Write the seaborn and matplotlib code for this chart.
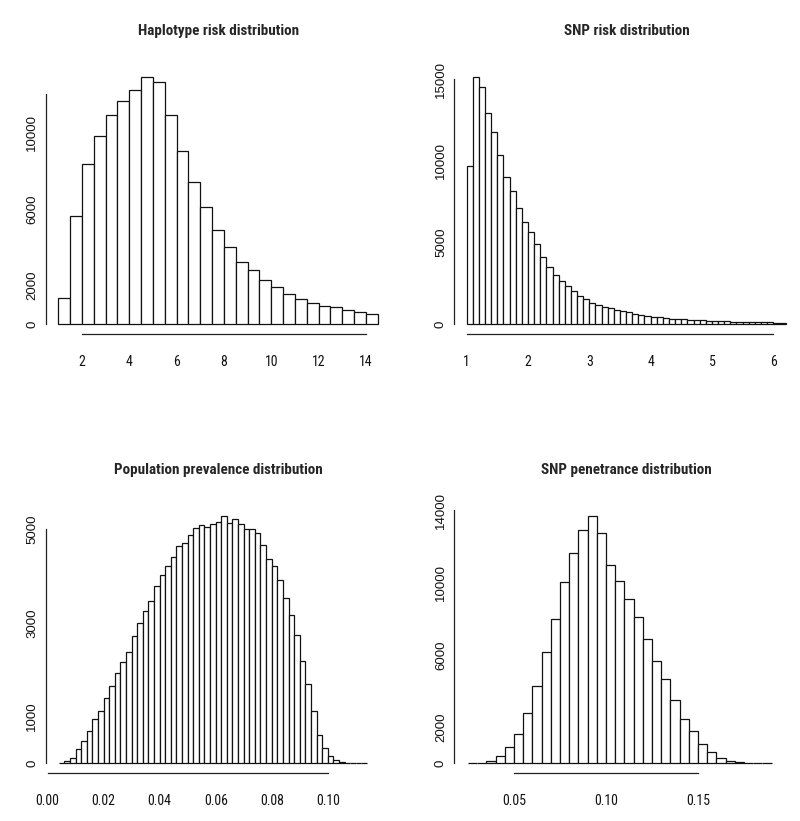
import numpy as np
import pandas as pd
import matplotlib
matplotlib.use('Agg')
import matplotlib.pyplot as plt
import seaborn as sns
from matplotlib import font_manager

# counts (white bars, black outline)
hap_start, hap_width = 1.0, 0.5
hap_counts = [1374, 5635, 8330, 9809, 10904, 11617, 12226, 12870, 12609, 10887,
              9026, 7409, 6104, 4904, 4017, 3252, 2835, 2296, 1913, 1565,
              1304, 1113, 957, 887, 713, 643, 539]

snp_start, snp_width = 1.0, 0.1
snp_counts = [9673, 15143, 14531, 12898, 11735, 10347, 9020, 8163, 7122, 6224,
              5633, 4878, 4102, 3510, 3020, 2653, 2347, 2000, 1700, 1520,
              1306, 1163, 1061, 1000, 857, 796, 735, 612, 551, 510,
              449, 429, 367, 327, 327, 286, 245, 224, 224, 204,
              184, 163, 163, 143, 143, 122, 122, 102, 102, 102,
              82, 82]

prev_start, prev_width = 0.004, 0.002
prev_counts = [10, 50, 120, 313, 484, 691, 947, 1125, 1389, 1652,
               1923, 2172, 2372, 2728, 3006, 3255, 3476, 3796, 4031, 4209,
               4402, 4651, 4715, 4872, 5036, 5093, 5043, 5121, 5164, 5285,
               5142, 5214, 5121, 5014, 5014, 4915, 4665, 4373, 4209, 3910,
               3533, 3177, 2742, 2194, 1695, 1125, 612, 328, 157, 71,
               36, 14, 7, 5, 3]

pen_start, pen_width = 0.025, 0.005
pen_counts = [10, 40, 150, 400, 885, 1624, 2804, 4280, 6144, 7970,
              10018, 11624, 12915, 13708, 12731, 10978, 10111, 9077, 8081, 6900,
              5683, 4668, 3487, 2472, 1771, 1089, 609, 314, 148, 55,
              20, 8, 4]

titles = ['Haplotype risk distribution', 'SNP risk distribution',
          'Population prevalence distribution', 'SNP penetrance distribution']

hap_xticks = [2, 4, 6, 8, 10, 12, 14]
hap_yticks = [0, 2000, 4000, 6000, 8000, 10000, 12000]
hap_ylabels = ['0', '2000', '', '6000', '', '10000', '']

snp_xticks = [1, 2, 3, 4, 5, 6]
snp_yticks = [0, 5000, 10000, 15000]
snp_ylabels = ['0', '5000', '10000', '15000']

prev_xticks = [0.00, 0.02, 0.04, 0.06, 0.08, 0.10]
prev_xlabels = ['0.00', '0.02', '0.04', '0.06', '0.08', '0.10']
prev_yticks = [0, 1000, 2000, 3000, 4000, 5000]
prev_ylabels = ['0', '1000', '', '3000', '', '5000']

pen_xticks = [0.05, 0.10, 0.15]
pen_xlabels = ['0.05', '0.10', '0.15']
pen_yticks = [0, 2000, 4000, 6000, 8000, 10000, 12000, 14000]
pen_ylabels = ['0', '2000', '', '6000', '', '10000', '', '14000']

sns.set_style('white')
plt.rcParams['font.family'] = ['Liberation Sans', 'DejaVu Sans']

# the original text is squeezed sideways; use a narrow face if one is around
fonts = font_manager.fontManager.ttflist
names = {f.name for f in fonts}
narrow_family, narrow_stretch, squeeze = 'Liberation Sans', 'normal', 0.78
for cand in ['Liberation Sans Narrow', 'Arial Narrow', 'Roboto Condensed',
             'Open Sans Condensed', 'Noto Sans Condensed', 'DejaVu Sans Condensed']:
    if cand in names:
        narrow_family, squeeze = cand, 0.95
        break
else:
    for f in fonts:
        if f.stretch in ('condensed', 'semi-condensed', 'extra-condensed') and 'Mono' not in f.name and 'Serif' not in f.name:
            narrow_family, narrow_stretch, squeeze = f.name, f.stretch, 0.95
            break

W, H = 800, 821
fig = plt.figure(figsize=(W / 100, H / 100), dpi=100)


def panel(box, start, width, counts, title, xticks, xlabels, yticks, ylabels, xlim, ylim):
    l, t, r, b = box
    ax = fig.add_axes([l / W, 1 - b / H, (r - l) / W, (b - t) / H])
    n = len(counts)
    df = pd.DataFrame({'x': start + width * (np.arange(n) + 0.5), 'w': counts})
    sns.histplot(data=df, x='x', weights='w', binwidth=width,
                 binrange=(start, start + width * n), ax=ax,
                 color='white', edgecolor='#111111', linewidth=0.9, alpha=1)
    ax.set_xlim(*xlim)
    ax.set_ylim(*ylim)
    ax.set_xlabel('')
    ax.set_ylabel('')
    for s in ['top', 'right']:
        ax.spines[s].set_visible(False)
    for s in ['left', 'bottom']:
        ax.spines[s].set_color('#222222')
        ax.spines[s].set_linewidth(0.9)
    ax.spines['left'].set_bounds(yticks[0], yticks[-1])
    ax.spines['bottom'].set_bounds(xticks[0], xticks[-1])
    ax.set_xticks(xticks)
    ax.set_xticklabels(xlabels, family=narrow_family, stretch=narrow_stretch,
                       fontsize=10.5 * squeeze)
    ax.set_yticks(yticks)
    ax.set_yticklabels(ylabels, rotation=90, va='center', fontsize=9.5)
    ax.tick_params(axis='x', direction='out', length=4.3, width=0.9, pad=11,
                   color='#222222', labelcolor='#111111')
    ax.tick_params(axis='y', direction='out', length=4.3, width=0.9, pad=1,
                   color='#222222', labelcolor='#111111')
    ax.set_title(title, family=narrow_family, stretch=narrow_stretch, fontweight='bold',
                 fontsize=11.5 * squeeze * (0.95 if squeeze < 0.9 else 1.0), pad=23)
    return ax


panel((45.7, 67.4, 391, 334), hap_start, hap_width, hap_counts, titles[0],
      hap_xticks, [str(v) for v in hap_xticks], hap_yticks, hap_ylabels,
      (0.468, 15.06), (-522, 13388))
panel((454.3, 67.4, 799, 334), snp_start, snp_width, snp_counts, titles[1],
      snp_xticks, [str(v) for v in snp_xticks], snp_yticks, snp_ylabels,
      (0.798, 6.42), (-612, 15716))
panel((45.7, 506, 391, 773), prev_start, prev_width, prev_counts, titles[2],
      prev_xticks, prev_xlabels, prev_yticks, prev_ylabels,
      (-0.0007, 0.1226), (-207, 5498))
panel((454.3, 506, 799, 773), pen_start, pen_width, pen_counts, titles[3],
      pen_xticks, pen_xlabels, pen_yticks, pen_ylabels,
      (0.01755, 0.2049), (-537, 14242))

fig.savefig('out.png', dpi=100, facecolor='white')
